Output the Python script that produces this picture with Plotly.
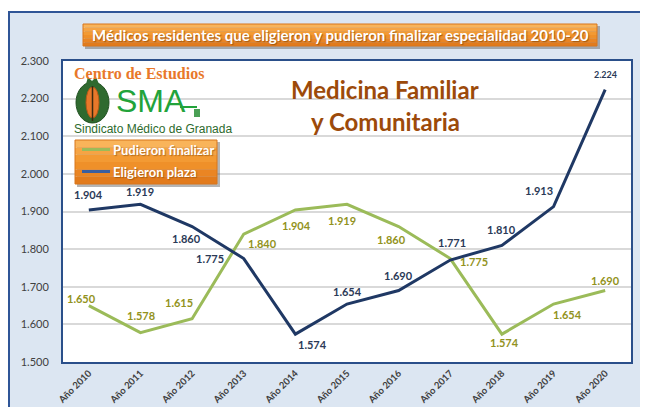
import plotly.graph_objects as go

# ---------------- data ----------------
categories = ["Año 2010", "Año 2011", "Año 2012", "Año 2013", "Año 2014", "Año 2015",
              "Año 2016", "Año 2017", "Año 2018", "Año 2019", "Año 2020"]
eligieron = [1904, 1919, 1860, 1775, 1574, 1654, 1690, 1771, 1810, 1913, 2224]
pudieron = [1650, 1578, 1615, 1840, 1904, 1919, 1860, 1775, 1574, 1654, 1690]
y_ticks = [1500, 1600, 1700, 1800, 1900, 2000, 2100, 2200, 2300]

title_text = "Médicos residentes que eligieron y pudieron finalizar especialidad 2010-20"
subtitle_lines = ["Medicina Familiar", "y Comunitaria"]
legend_names = ["Pudieron finalizar", "Eligieron plaza"]

# label offsets (pixels) - styling only
elig_off = [(0, -15), (0, -13), (-6, 12), (-34, 0), (17, 10), (0, -13), (0, -15),
            (2, -18), (0, -16), (-15, -16), (0, -15)]
pud_off = [(-7, -7), (1, -17), (-13, -16), (19, 9), (1, 16), (-5, 16), (-7, 13),
           (24, 3), (3, 8), (14, 10), (0, -10)]

NAVY = "#1f3864"
GREEN = "#9bbb59"
OLIVE = "#929220"
NAVY_LBL = "#2b3a57"
FRAME = "#2f5597"
BG = "#dce6f2"

# page body has an 8px margin: figure occupies screen pixels 8..648 x 8..407
OFF = 8
W, H = 640, 399
L, R, T, B = 55, 17, 53, 45
PW, PH = W - L - R, H - T - B


def px(x):  # screen x -> paper
    return (x - OFF - L) / PW


def py(y):  # screen y -> paper
    return (H - B - (y - OFF)) / PH


def fmt(v):
    return f"{v:,}".replace(",", ".")


fig = go.Figure()
fig.add_trace(go.Scatter(x=categories, y=pudieron, mode="lines", name=legend_names[0],
                         line=dict(color=GREEN, width=3), hoverinfo="x+y"))
fig.add_trace(go.Scatter(x=categories, y=eligieron, mode="lines", name=legend_names[1],
                         line=dict(color=NAVY, width=3), hoverinfo="x+y"))

shapes = []
# outer frame
shapes.append(dict(type="rect", xref="paper", yref="paper", x0=px(9), x1=px(700),
                   y0=py(460), y1=py(12), fillcolor=BG, line=dict(color=FRAME, width=2),
                   layer="below"))
# plot area white
shapes.append(dict(type="rect", xref="paper", yref="paper", x0=0, x1=1, y0=0, y1=1,
                   fillcolor="white", line=dict(width=0), layer="below"))


def gradient_box(x0, y0, x1, y1, layer="above"):
    # shadow
    shapes.append(dict(type="rect", xref="paper", yref="paper", x0=px(x0 + 2), x1=px(x1 + 3),
                       y0=py(y1 + 3), y1=py(y0 + 2), fillcolor="rgba(90,90,90,0.45)",
                       line=dict(width=0), layer=layer))
    cols = ["#f9b45a", "#f6a444", "#f39a33", "#ef9029", "#ea8523", "#e27b1c"]
    n = len(cols)
    h = (y1 - y0) / n
    for i, c in enumerate(cols):
        shapes.append(dict(type="rect", xref="paper", yref="paper", x0=px(x0), x1=px(x1),
                           y0=py(y0 + (i + 1) * h), y1=py(y0 + i * h), fillcolor=c,
                           line=dict(width=0), layer=layer))
    shapes.append(dict(type="rect", xref="paper", yref="paper", x0=px(x0), x1=px(x1),
                       y0=py(y1), y1=py(y0), fillcolor="rgba(0,0,0,0)",
                       line=dict(color="#d8761c", width=1), layer=layer))


# title box
gradient_box(83, 24, 597, 46)
# cover rects over gridline (logo and subtitle)
shapes.append(dict(type="rect", xref="paper", yref="paper", x0=px(64), x1=px(207),
                   y0=py(134), y1=py(63), fillcolor="white", line=dict(width=0),
                   layer="between"))
shapes.append(dict(type="rect", xref="paper", yref="paper", x0=px(283), x1=px(505),
                   y0=py(134), y1=py(66), fillcolor="white", line=dict(width=0),
                   layer="between"))
# legend box
gradient_box(75, 140, 217, 184)
shapes.append(dict(type="line", xref="paper", yref="paper", x0=px(82), x1=px(110),
                   y0=py(149.5), y1=py(149.5), line=dict(color=GREEN, width=3)))
shapes.append(dict(type="line", xref="paper", yref="paper", x0=px(82), x1=px(110),
                   y0=py(171.5), y1=py(171.5), line=dict(color="#3a5fa0", width=3)))

# logo: pomegranate
shapes.append(dict(type="circle", xref="paper", yref="paper", x0=px(76), x1=px(109),
                   y0=py(123), y1=py(82), fillcolor="#2f6a2f", line=dict(color="#1f4f1f", width=1)))
shapes.append(dict(type="path", xref="paper", yref="paper",
                   path=f"M {px(86)},{py(84)} L {px(88)},{py(77)} L {px(92)},{py(81)} L {px(96)},{py(77)} L {px(99)},{py(84)} Z",
                   fillcolor="#2f6a2f", line=dict(width=0)))
shapes.append(dict(type="circle", xref="paper", yref="paper", x0=px(86), x1=px(99),
                   y0=py(118), y1=py(87), fillcolor="#e8782a", line=dict(color="#b85a18", width=1)))
shapes.append(dict(type="line", xref="paper", yref="paper", x0=px(92.5), x1=px(92.5),
                   y0=py(121), y1=py(86), line=dict(color="#3a2a10", width=1.5)))
# SMA ECG line
shapes.append(dict(type="path", xref="paper", yref="paper",
                   path=f"M {px(180)},{py(107)} L {px(197)},{py(107)}",
                   line=dict(color="#22a33a", width=2)))
shapes.append(dict(type="rect", xref="paper", yref="paper", x0=px(194), x1=px(200),
                   y0=py(117), y1=py(109), fillcolor="#4aa055", line=dict(width=0)))

annotations = []
FONT = "Lato, Carlito, 'Open Sans', sans-serif"
annotations.append(dict(xref="paper", yref="paper", x=px(340), y=py(35.5), text=f"<b>{title_text}</b>",
                        showarrow=False, xanchor="center", yanchor="middle",
                        font=dict(family=FONT, size=15, color="white",
                                  shadow="1px 1px 1px rgba(120,60,0,0.6)")))
annotations.append(dict(xref="paper", yref="paper", x=px(385), y=py(90), text=f"<b>{subtitle_lines[0]}</b>",
                        showarrow=False, xanchor="center", yanchor="middle",
                        font=dict(family=FONT, size=24, color="#9c4a0a")))
annotations.append(dict(xref="paper", yref="paper", x=px(385), y=py(121), text=f"<b>{subtitle_lines[1]}</b>",
                        showarrow=False, xanchor="center", yanchor="middle",
                        font=dict(family=FONT, size=24, color="#9c4a0a")))
# legend text
for name, yy in zip(legend_names, [149.5, 171.5]):
    annotations.append(dict(xref="paper", yref="paper", x=px(111), y=py(yy), text=f"<b>{name}</b>",
                            showarrow=False, xanchor="left", yanchor="middle",
                            font=dict(family=FONT, size=13, color="white",
                                      shadow="1px 1px 1px rgba(120,60,0,0.5)")))
# logo texts
annotations.append(dict(xref="paper", yref="paper", x=px(72), y=py(74), text="<b>Centro de Estudios</b>",
                        showarrow=False, xanchor="left", yanchor="middle",
                        font=dict(family="Liberation Serif, DejaVu Serif, serif", size=16, color="#e8782a")))
annotations.append(dict(xref="paper", yref="paper", x=px(114), y=py(101), text="SMA",
                        showarrow=False, xanchor="left", yanchor="middle",
                        font=dict(family="Liberation Sans Narrow, Liberation Sans, sans-serif", size=32, color="#22a33a")))
annotations.append(dict(xref="paper", yref="paper", x=px(72), y=py(129), text="Sindicato Médico de Granada",
                        showarrow=False, xanchor="left", yanchor="middle",
                        font=dict(family="Liberation Sans Narrow, Liberation Sans, sans-serif", size=12, color="#2d6a2d")))

# data labels
for i, (v, (dx, dy)) in enumerate(zip(eligieron, elig_off)):
    annotations.append(dict(xref="x", yref="y", x=categories[i], y=v, text=f"<b>{fmt(v)}</b>",
                            showarrow=False, xshift=dx, yshift=-dy,
                            font=dict(family=FONT, size=9 if i == 10 else 11, color=NAVY_LBL)))
for i, (v, (dx, dy)) in enumerate(zip(pudieron, pud_off)):
    annotations.append(dict(xref="x", yref="y", x=categories[i], y=v, text=f"<b>{fmt(v)}</b>",
                            showarrow=False, xshift=dx, yshift=-dy,
                            font=dict(family=FONT, size=11, color=OLIVE)))

fig.update_layout(
    width=W, height=H, margin=dict(l=L, r=R, t=T, b=B, autoexpand=False),
    paper_bgcolor="white", plot_bgcolor="rgba(0,0,0,0)",
    showlegend=False, separators=",.",
    shapes=shapes, annotations=annotations,
    xaxis=dict(type="category", range=[-0.5, 10.5], tickangle=-45, showgrid=False,
               showline=True, mirror=True, linecolor="#2a4f8a", linewidth=2,
               ticks="", tickfont=dict(family=FONT, size=9.5, color="#404040", weight="bold"),
               fixedrange=True, automargin=False),
    yaxis=dict(range=[1500, 2300], tickvals=y_ticks, tickformat=",.0f",
               showgrid=True, gridcolor="#d9d9d9", gridwidth=1.5,
               showline=True, mirror=True, linecolor="#2a4f8a", linewidth=2,
               ticks="", ticklabelstandoff=10, zeroline=False,
               tickfont=dict(family=FONT, size=11, color="#404040"), fixedrange=True,
               automargin=False),
)

fig.write_html("out.html")
